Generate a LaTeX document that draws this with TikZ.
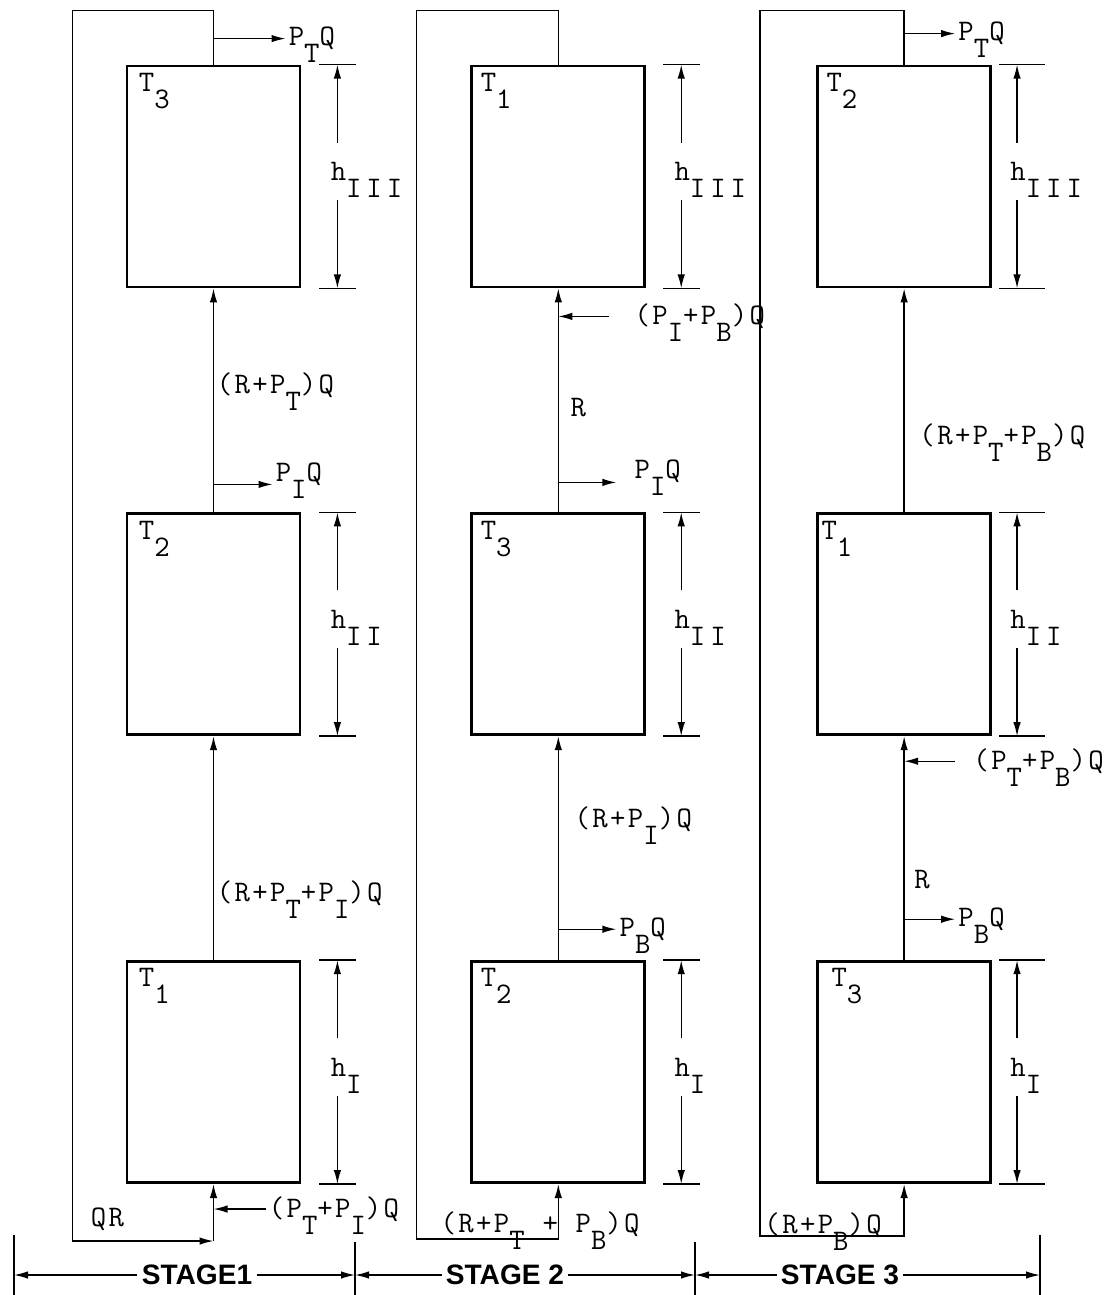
\documentclass[tikz,border=0pt]{standalone}
\usepackage{fontspec}
\newfontfamily\stagefont{Liberation Sans}
\newfontfamily\typefont{Latin Modern Mono}[LetterSpace=8]
\usetikzlibrary{arrows.meta, positioning, calc}
\newcommand{\subdn}[1]{\raisebox{-0.34cm}[0pt][0pt]{#1}}

\begin{document}
\begin{tikzpicture}[
  column/.style={
    rectangle,
    draw,
    line width=1.6pt,
    minimum width=3.46cm,
    minimum height=4.42cm,
    inner sep=0pt
  },
  tag/.style={
    inner sep=0pt,
    font=\typefont\fontsize{17}{19}\selectfont
  },
  lbl/.style={
    inner sep=0.06cm,
    font=\typefont\fontsize{17}{19}\selectfont
  },
  dimlbl/.style={
    lbl,
    anchor=west,
    minimum height=1.14cm
  },
  stagelbl/.style={
    inner sep=0.08cm,
    font=\stagefont\bfseries\fontsize{16}{18}\selectfont
  },
  tick/.style={line width=0.9pt},
  arrow/.style={-{Latex[length=2.8mm,width=1.5mm]}, line width=0.8pt}
]
\useasboundingbox (0,0) rectangle (22.34,-25.9);

% ============================================================
% Columns
% ============================================================

\node[column] (st1top) at (4.27,-3.53) {};
\node[column, below=4.48cm of st1top] (st1mid) {};
\node[column, below=4.48cm of st1mid] (st1bot) {};

\node[column, right=3.38cm of st1top] (st2top) {};
\node[column, below=4.48cm of st2top] (st2mid) {};
\node[column, below=4.48cm of st2mid] (st2bot) {};

\node[column, right=3.40cm of st2top] (st3top) {};
\node[column, below=4.48cm of st3top] (st3mid) {};
\node[column, below=4.48cm of st3mid] (st3bot) {};

\node[tag, below right=0.16cm and 0.26cm of st1top.north west] (t13) {T\subdn{3}};
\node[tag, below right=0.16cm and 0.26cm of st1mid.north west] (t12) {T\subdn{2}};
\node[tag, below right=0.16cm and 0.26cm of st1bot.north west] (t11) {T\subdn{1}};
\node[tag, below right=0.16cm and 0.20cm of st2top.north west] (t21) {T\subdn{1}};
\node[tag, below right=0.16cm and 0.20cm of st2mid.north west] (t23) {T\subdn{3}};
\node[tag, below right=0.16cm and 0.20cm of st2bot.north west] (t22) {T\subdn{2}};
\node[tag, below right=0.16cm and 0.20cm of st3top.north west] (t32) {T\subdn{2}};
\node[tag, below right=0.16cm and 0.10cm of st3mid.north west] (t31) {T\subdn{1}};
\node[tag, below right=0.16cm and 0.30cm of st3bot.north west] (t33) {T\subdn{3}};

% ============================================================
% Stage 1
% ============================================================

\coordinate (q1a) at ($(st1top.north)+(0,1.08)$);
\coordinate (q1b) at ($(st1bot.south)+(0,-1.14)$);
\draw[arrow] (st1top.north) -- (q1a) -- ++(-2.82,0) |- (q1b);
\draw[arrow] (q1b) -- (st1bot.south);
\draw[arrow] (st1mid.north) -- (st1top.south);
\draw[arrow] (st1bot.north) -- (st1mid.south);

\coordinate (o1t) at ($(st1top.north)+(0,0.52)$);
\node[lbl, right=1.44cm of o1t] (pt1) {P\subdn{T}Q};
\draw[arrow] (o1t) -- (pt1.west);

\node[lbl, anchor=west] (rt1) at ($(st1mid.north)!0.57!(st1top.south)$) {(R+P\subdn{T})Q};

\coordinate (o1m) at ($(st1mid.north)+(0,0.56)$);
\node[lbl, right=1.18cm of o1m, yshift=0.2cm] (pi1) {P\subdn{I}Q};
\draw[arrow] (o1m) -- (pi1.west |- o1m);

\node[lbl, anchor=west] (rti1) at ($(st1bot.north)!0.3!(st1mid.south)$) {(R+P\subdn{T}+P\subdn{I})Q};

\coordinate (i1) at ($(st1bot.south)+(0,-0.5)$);
\node[lbl, right=1.04cm of i1] (pti1) {(P\subdn{T}+P\subdn{I})Q};
\draw[arrow] (pti1.west) -- (i1);

\node[lbl] (qr1) at ($(q1b)+(-2.12,0.44)$) {QR};

% dimensions
\coordinate (d13a) at ($(st1top.north east)+(0.72,0)$);
\coordinate (d13b) at ($(st1top.south east)+(0.72,0)$);
\draw[tick] ($(d13a)+(-0.36,0)$) -- ($(d13a)+(0.38,0)$);
\draw[tick] ($(d13b)+(-0.36,0)$) -- ($(d13b)+(0.38,0)$);
\node[dimlbl] (h13) at ($(d13a)!0.5!(d13b)+(-0.2,0.1)$) {h\subdn{I\,I\,I}};
\draw[arrow] (h13.north -| d13a) -- (d13a);
\draw[arrow] (h13.south -| d13b) -- (d13b);

\coordinate (d12a) at ($(st1mid.north east)+(0.72,0)$);
\coordinate (d12b) at ($(st1mid.south east)+(0.72,0)$);
\draw[tick] ($(d12a)+(-0.36,0)$) -- ($(d12a)+(0.38,0)$);
\draw[tick] ($(d12b)+(-0.36,0)$) -- ($(d12b)+(0.38,0)$);
\node[dimlbl] (h12) at ($(d12a)!0.5!(d12b)+(-0.2,0.1)$) {h\subdn{I\,I}};
\draw[arrow] (h12.north -| d12a) -- (d12a);
\draw[arrow] (h12.south -| d12b) -- (d12b);

\coordinate (d11a) at ($(st1bot.north east)+(0.72,0)$);
\coordinate (d11b) at ($(st1bot.south east)+(0.72,0)$);
\draw[tick] ($(d11a)+(-0.36,0)$) -- ($(d11a)+(0.38,0)$);
\draw[tick] ($(d11b)+(-0.36,0)$) -- ($(d11b)+(0.38,0)$);
\node[dimlbl] (h11) at ($(d11a)!0.5!(d11b)+(-0.2,0.1)$) {h\subdn{I}};
\draw[arrow] (h11.north -| d11a) -- (d11a);
\draw[arrow] (h11.south -| d11b) -- (d11b);

% ============================================================
% Stage 2
% ============================================================

\coordinate (q2a) at ($(st2top.north)+(0,1.08)$);
\coordinate (q2b) at ($(st2bot.south)+(0,-1.1)$);
\draw[arrow] (st2top.north) -- (q2a) -- ++(-2.84,0) |- (q2b) -- (st2bot.south);
\draw[arrow] (st2mid.north) -- (st2top.south);
\draw[arrow] (st2bot.north) -- (st2mid.south);

\coordinate (i2) at ($(st2top.south)+(0,-0.56)$);
\node[lbl, right=1.46cm of i2] (pib2) {(P\subdn{I}+P\subdn{B})Q};
\draw[arrow, shorten <=0.44cm] (pib2.west) -- (i2);

\node[lbl, anchor=west] (r2) at ($(st2mid.north)!0.47!(st2top.south)+(0.18,0)$) {R};

\coordinate (o2m) at ($(st2mid.north)+(0,0.6)$);
\node[lbl, right=1.46cm of o2m, yshift=0.22cm] (pi2) {P\subdn{I}Q};
\draw[arrow, shorten >=0.3cm] (o2m) -- (pi2.west |- o2m);

\node[lbl, anchor=west] (rpi2) at ($(st2bot.north)!0.63!(st2mid.south)+(0.26,0)$) {(R+P\subdn{I})Q};

\coordinate (o2b) at ($(st2bot.north)+(0,0.62)$);
\node[lbl, right=1.16cm of o2b] (pb2) {P\subdn{B}Q};
\draw[arrow] (o2b) -- (pb2.west);

\node[lbl, anchor=west] (rtb2) at ($(q2b)+(-2.42,0.3)$) {(R+P\subdn{T} + P\subdn{B})Q};

% dimensions
\coordinate (d21a) at ($(st2top.north east)+(0.70,0)$);
\coordinate (d21b) at ($(st2top.south east)+(0.70,0)$);
\draw[tick] ($(d21a)+(-0.36,0)$) -- ($(d21a)+(0.38,0)$);
\draw[tick] ($(d21b)+(-0.36,0)$) -- ($(d21b)+(0.38,0)$);
\node[dimlbl] (h21) at ($(d21a)!0.5!(d21b)+(-0.2,0.1)$) {h\subdn{I\,I\,I}};
\draw[arrow] (h21.north -| d21a) -- (d21a);
\draw[arrow] (h21.south -| d21b) -- (d21b);

\coordinate (d23a) at ($(st2mid.north east)+(0.70,0)$);
\coordinate (d23b) at ($(st2mid.south east)+(0.70,0)$);
\draw[tick] ($(d23a)+(-0.36,0)$) -- ($(d23a)+(0.38,0)$);
\draw[tick] ($(d23b)+(-0.36,0)$) -- ($(d23b)+(0.38,0)$);
\node[dimlbl] (h23) at ($(d23a)!0.5!(d23b)+(-0.2,0.1)$) {h\subdn{I\,I}};
\draw[arrow] (h23.north -| d23a) -- (d23a);
\draw[arrow] (h23.south -| d23b) -- (d23b);

\coordinate (d22a) at ($(st2bot.north east)+(0.70,0)$);
\coordinate (d22b) at ($(st2bot.south east)+(0.70,0)$);
\draw[tick] ($(d22a)+(-0.36,0)$) -- ($(d22a)+(0.38,0)$);
\draw[tick] ($(d22b)+(-0.36,0)$) -- ($(d22b)+(0.38,0)$);
\node[dimlbl] (h22) at ($(d22a)!0.5!(d22b)+(-0.2,0.1)$) {h\subdn{I}};
\draw[arrow] (h22.north -| d22a) -- (d22a);
\draw[arrow] (h22.south -| d22b) -- (d22b);

% ============================================================
% Stage 3
% ============================================================

\coordinate (q3a) at ($(st3top.north)+(0,1.08)$);
\coordinate (q3b) at ($(st3bot.south)+(0,-1.04)$);
\draw[arrow] (st3top.north) -- (q3a) -- ++(-2.88,0) |- (q3b) -- (st3bot.south);
\draw[arrow] (st3mid.north) -- (st3top.south);
\draw[arrow] (st3bot.north) -- (st3mid.south);

\coordinate (o3t) at ($(st3top.north)+(0,0.62)$);
\node[lbl, right=1.02cm of o3t] (pt3) {P\subdn{T}Q};
\draw[arrow] (o3t) -- (pt3.west);

\node[lbl, anchor=west] (rtb3) at ($(st3mid.north)!0.34!(st3top.south)+(0.24,0)$) {(R+P\subdn{T}+P\subdn{B})Q};

\coordinate (i3) at ($(st3mid.south)+(0,-0.5)$);
\node[lbl, right=1.32cm of i3] (ptb3) {(P\subdn{T}+P\subdn{B})Q};
\draw[arrow, shorten <=0.3cm] (ptb3.west) -- (i3);

\node[lbl, anchor=west] (r3) at ($(st3bot.north)!0.36!(st3mid.south)+(0.14,0)$) {R};

\coordinate (o3b) at ($(st3bot.north)+(0,0.82)$);
\node[lbl, right=1.02cm of o3b] (pb3) {P\subdn{B}Q};
\draw[arrow] (o3b) -- (pb3.west);

\node[lbl, anchor=west] (rb3) at ($(q3b)+(-2.86,0.22)$) {(R+P\subdn{B})Q};

% dimensions
\coordinate (d32a) at ($(st3top.north east)+(0.5,0)$);
\coordinate (d32b) at ($(st3top.south east)+(0.5,0)$);
\draw[tick] ($(d32a)+(-0.36,0)$) -- ($(d32a)+(0.56,0)$);
\draw[tick] ($(d32b)+(-0.36,0)$) -- ($(d32b)+(0.56,0)$);
\node[dimlbl] (h32) at ($(d32a)!0.5!(d32b)+(-0.2,0.1)$) {h\subdn{I\,I\,I}};
\draw[arrow] (h32.north -| d32a) -- (d32a);
\draw[arrow] (h32.south -| d32b) -- (d32b);

\coordinate (d31a) at ($(st3mid.north east)+(0.5,0)$);
\coordinate (d31b) at ($(st3mid.south east)+(0.5,0)$);
\draw[tick] ($(d31a)+(-0.36,0)$) -- ($(d31a)+(0.56,0)$);
\draw[tick] ($(d31b)+(-0.36,0)$) -- ($(d31b)+(0.56,0)$);
\node[dimlbl] (h31) at ($(d31a)!0.5!(d31b)+(-0.2,0.1)$) {h\subdn{I\,I}};
\draw[arrow] (h31.north -| d31a) -- (d31a);
\draw[arrow] (h31.south -| d31b) -- (d31b);

\coordinate (d33a) at ($(st3bot.north east)+(0.5,0)$);
\coordinate (d33b) at ($(st3bot.south east)+(0.5,0)$);
\draw[tick] ($(d33a)+(-0.36,0)$) -- ($(d33a)+(0.56,0)$);
\draw[tick] ($(d33b)+(-0.36,0)$) -- ($(d33b)+(0.56,0)$);
\node[dimlbl] (h33) at ($(d33a)!0.5!(d33b)+(-0.2,0.1)$) {h\subdn{I}};
\draw[arrow] (h33.north -| d33a) -- (d33a);
\draw[arrow] (h33.south -| d33b) -- (d33b);

% ============================================================
% Stage bar
% ============================================================

\coordinate (s0) at (0.28,-25.5);
\coordinate (s1) at (7.1,-25.5);
\coordinate (s2) at (13.9,-25.5);
\coordinate (s3) at (20.8,-25.5);
\draw[tick] (s0) +(0,0.8) -- +(0,-0.4);
\draw[tick] (s1) +(0,0.66) -- +(0,-0.4);
\draw[tick] (s2) +(0,0.66) -- +(0,-0.4);
\draw[tick] (s3) +(0,0.8) -- +(0,-0.4);

\node[stagelbl] (stg1) at (3.94,-25.5) {STAGE1};
\node[stagelbl] (stg2) at (10.1,-25.5) {STAGE 2};
\node[stagelbl] (stg3) at (16.8,-25.5) {STAGE 3};

\draw[arrow] (stg1.west) -- (s0);
\draw[arrow] (stg1.east) -- (s1);
\draw[arrow] (stg2.west) -- (s1);
\draw[arrow] (stg2.east) -- (s2);
\draw[arrow] (stg3.west) -- (s2);
\draw[arrow] (stg3.east) -- (s3);

\end{tikzpicture}
\end{document}
